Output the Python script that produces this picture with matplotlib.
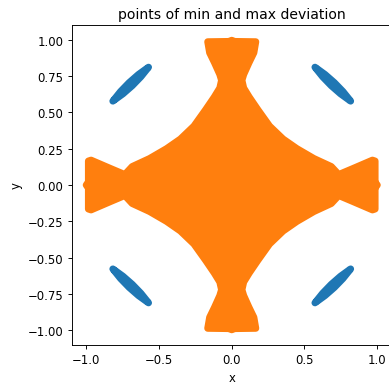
import numpy as np
import matplotlib
matplotlib.use("Agg")
import matplotlib.pyplot as plt

# outline of the max-deviation region, first quadrant, from (0, 1) round to (1, 0)
max_x = [0.0, 0.02, 0.165, 0.152, 0.118, 0.082, 0.07, 0.082, 0.12, 0.18,
         0.26, 0.353, 0.448, 0.565, 0.684, 0.735, 0.832, 0.967, 0.985,
         0.985, 1.0]
max_y = [0.995, 0.987, 0.985, 0.91, 0.84, 0.76, 0.72, 0.667, 0.605, 0.517,
         0.405, 0.316, 0.25, 0.182, 0.127, 0.072, 0.113, 0.171, 0.165,
         0.02, 0.0]

# min-deviation strip in the upper-left quadrant (closed outline)
min_x = [-0.817, -0.764, -0.705, -0.641, -0.572, -0.625, -0.684, -0.748]
min_y = [0.577, 0.643, 0.704, 0.760, 0.810, 0.744, 0.683, 0.627]

qx = np.array(max_x)
qy = np.array(max_y)
ox = np.concatenate([qx, qx[::-1], -qx, -qx[::-1]])
oy = np.concatenate([qy, -qy[::-1], -qy, qy[::-1]])

bx = np.array(min_x)
by = np.array(min_y)

fig = plt.figure(figsize=(389 / 84, 388 / 84), dpi=84)
ax = fig.add_axes([0.1843, 0.1082, 0.8229, 0.8247])

for sx, sy in [(1, 1), (-1, 1), (1, -1), (-1, -1)]:
    ax.fill(sx * bx, sy * by, color='#1f77b4', lw=6, joinstyle='round')
ax.fill(ox, oy, color='#ff7f0e', lw=6, joinstyle='round')

ax.set_xlim(-1.1, 1.1)
ax.set_ylim(-1.1, 1.1)
ax.set_xticks([-1.0, -0.5, 0.0, 0.5, 1.0])
ax.set_yticks([-1.0, -0.75, -0.5, -0.25, 0.0, 0.25, 0.5, 0.75, 1.0])
ax.set_xlabel('x')
ax.set_ylabel('y')
ax.set_title('points of min and max deviation')

fig.savefig('out.png', dpi=84)
